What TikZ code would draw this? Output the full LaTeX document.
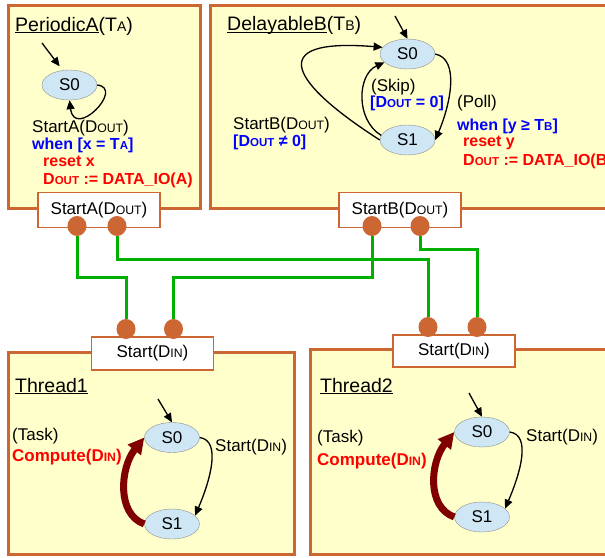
\documentclass[tikz,border=0pt]{standalone}
\usepackage{fontspec}
\setmainfont{Liberation Sans}
\usepackage{graphicx}
\usetikzlibrary{arrows.meta,shapes.geometric}
\definecolor{frameor}{RGB}{204,102,51}
\definecolor{paleyellow}{RGB}{255,255,204}
\definecolor{stateblue}{RGB}{207,231,245}
\definecolor{stategray}{RGB}{140,140,140}
\definecolor{wiregreen}{RGB}{0,176,0}
\definecolor{taskred}{RGB}{128,0,0}
\newcommand\smc[1]{\scalebox{0.72}{#1}}
\newcommand\fnorm{\fontsize{17}{20}\selectfont}
\newcommand\fbold{\fontsize{16}{19}\selectfont\bfseries}
\newcommand\ftitle{\fontsize{19.5}{22}\selectfont}
\begin{document}
\begin{tikzpicture}[
  x=1pt, y=1pt,
  frame/.style={draw=frameor, line width=3pt, fill=paleyellow},
  port/.style={rectangle, draw=frameor, line width=1.3pt, fill=white, minimum width=122pt, minimum height=35pt, font=\fnorm},
  pin/.style={ellipse, fill=frameor, minimum width=19pt, minimum height=20pt, inner sep=0pt},
  state/.style={ellipse, draw=stategray, fill=stateblue, minimum width=55pt, minimum height=30pt, inner sep=0pt, font=\fnorm},
  wire/.style={draw=wiregreen, line width=3pt},
  arr/.style={-{Triangle[length=9pt,width=8pt]}, line width=1.3pt},
  task/.style={-{Triangle[length=16pt,width=16pt]}, line width=7pt, draw=taskred},
  lbl/.style={anchor=base west, inner sep=0pt, font=\fnorm},
  blbl/.style={lbl, font=\fbold},
  ttl/.style={lbl, font=\ftitle},
  node distance=86pt
]
\clip (0,0) rectangle (605,-557);
\draw[frame] (8.7,-5.3) rectangle (200,-208);
\draw[frame] (210.5,-5.3) rectangle (620,-208);
\draw[frame] (8,-352) rectangle (294.5,-554.5);
\draw[frame] (310.7,-349.5) rectangle (620,-554);

% PeriodicA
\node[ttl] (ttlA) at (15,-31) {\underline{PeriodicA}(T\smc{A})};
\node[state] (as0) at (69.5,-85) {S0};
\coordinate (ia) at (42,-43);
\draw[arr, shorten >=5pt] (ia) -- (as0.115);
\draw[arr] (as0.east) .. controls +(28,-3) and +(5,-40) .. (as0.south);
\node[lbl] (trA) at (32,-132) {StartA(D\smc{OUT})};
\node[blbl, blue] (grdA) at (32,-149.5) {when [x = T\smc{A}]};
\node[blbl, red] (rstA) at (43,-166.5) {reset x};
\node[blbl, red] (setA) at (43,-184) {D\smc{OUT} := DATA\_IO(A)};

% DelayableB
\node[ttl] (ttlB) at (227,-30.5) {\underline{\smash{DelayableB}}(T\smc{B})};
\node[state] (bs0) at (407.5,-54) {S0};
\node[state, below of=bs0] (bs1) {S1};
\coordinate (ib) at (395,-16);
\draw[arr] (ib) -- (bs0.north);
\draw[arr] (bs0.east) .. controls +(25,-5) and +(15,35) .. (bs1.east);
\draw[arr] (bs1.170) .. controls +(-26,16) and +(-27,-12) .. (bs0.200);
\draw[arr] (bs1.west) .. controls +(-86,55) and +(-122,10) .. (bs0.165);
\node[lbl] (skipB) at (371,-91.5) {(Skip)};
\node[blbl, blue] (grdS) at (370,-107) {[D\smc{OUT} = 0]};
\node[lbl] (pollB) at (457,-107) {(Poll)};
\node[blbl, blue] (grdP) at (457,-130.5) {when [y ≥ T\smc{B}]};
\node[blbl, red] (rstB) at (463,-146.5) {reset y};
\node[blbl, red] (setB) at (463,-165) {D\smc{OUT} := DATA\_IO(B)};
\node[lbl] (trB) at (233,-129) {StartB(D\smc{OUT})};
\node[blbl, blue] (grdB) at (233,-146.5) {[D\smc{OUT} ≠ 0]};

% Thread1
\node[ttl] (ttl1) at (15,-392) {\underline{Thread1}};
\node[state] (t1s0) at (172,-437.5) {S0};
\node[state, below of=t1s0, node distance=86.5pt] (t1s1) {S1};
\coordinate (i1) at (158,-399);
\draw[arr] (i1) -- (t1s0.north);
\draw[arr] (t1s0.east) .. controls +(22,-3) and +(15,35) .. (t1s1.20);
\draw[task] (t1s1.west) .. controls +(-28,10) and +(-24,-30) .. (t1s0.west);
\node[lbl] (st1) at (215,-451) {Start(D\smc{IN})};
\node[lbl] (tk1) at (12,-440) {(Task)};
\node[lbl, font=\fnorm\bfseries, red] (cp1) at (12,-461.5) {Compute(D\smc{IN})};

% Thread2
\node[ttl] (ttl2) at (320,-392) {\underline{Thread2}};
\node[state] (t2s0) at (482,-432) {S0};
\node[state, below of=t2s0, node distance=85pt] (t2s1) {S1};
\coordinate (i2) at (469,-393);
\draw[arr] (i2) -- (t2s0.north);
\draw[arr] (t2s0.east) .. controls +(22,-3) and +(15,35) .. (t2s1.20);
\draw[task] (t2s1.west) .. controls +(-28,10) and +(-24,-30) .. (t2s0.west);
\node[lbl] (st2) at (526,-441) {Start(D\smc{IN})};
\node[lbl] (tk2) at (317,-442) {(Task)};
\node[lbl, font=\fnorm\bfseries, red] (cp2) at (317,-465) {Compute(D\smc{IN})};

% ports
\node[port] (portA) at (99,-210) {StartA(D\smc{OUT})};
\node[port] (portB) at (400,-210) {StartB(D\smc{OUT})};
\node[port, minimum height=33pt] (port1) at (152.5,-353.5) {Start(D\smc{IN})};
\node[port, minimum height=32pt] (port2) at (454,-351) {Start(D\smc{IN})};
\node[pin] (pA1) at (77,-226) {};
\node[pin] (pA2) at (117,-226) {};
\node[pin] (pB1) at (372,-226) {};
\node[pin] (pB2) at (420,-226) {};
\node[pin] (p1a) at (126,-329) {};
\node[pin] (p1b) at (173.5,-329) {};
\node[pin] (p2a) at (428,-327) {};
\node[pin] (p2b) at (477,-327) {};

% wiring
\draw[wire] (pA1) -- (pA1 |- 0,-277) -| (p1a);
\draw[wire] (pA2) -- (pA2 |- 0,-259) -| (p2a);
\draw[wire] (pB1) -- (pB1 |- 0,-277) -| (p1b);
\draw[wire] (pB2) -- (pB2 |- 0,-249) -| (p2b);
\end{tikzpicture}
\end{document}
